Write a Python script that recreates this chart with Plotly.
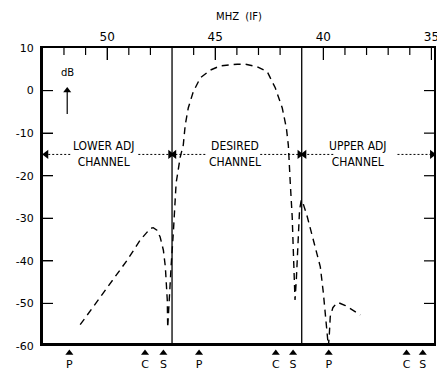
import plotly.graph_objects as go

# IF response curve (MHz, dB)
freq_mhz = [51.25, 50.65, 49.86, 49.07, 48.47, 48.01, 47.87, 47.70, 47.55, 47.40, 47.31, 47.22, 47.20,
            47.15, 47.10, 47.04, 46.94, 46.81, 46.62, 46.48, 46.39, 46.25, 46.02, 45.69, 45.23, 44.77,
            43.98, 43.61, 43.06, 42.59, 42.22, 41.90, 41.71, 41.62, 41.53, 41.44, 41.39, 41.34, 41.31,
            41.25, 41.18, 41.10, 41.02, 40.93, 40.74, 40.46, 40.14, 40.00, 39.91, 39.81, 39.77,
            39.73, 39.68, 39.56, 39.40, 39.31, 38.98, 38.66, 38.29]
response_db = [-55.0, -50.8, -45.2, -39.8, -35.1, -32.4, -32.2, -32.8, -34.4, -37.5, -41.4, -49.2, -55.7,
               -50.0, -45.0, -41.0, -33.4, -21.7, -15.6, -12.8, -8.1, -4.1, -0.3, 3.0, 4.8, 5.8,
               6.2, 6.2, 5.6, 4.4, 0.6, -4.1, -8.8, -12.8, -21.7, -29.7, -37.4, -47.5, -49.2,
               -44.5, -35.0, -28.0, -25.7, -26.6, -29.7, -35.1, -41.4, -47.5, -53.1, -58.5, -60.0,
               -58.0, -53.1, -51.0, -50.0, -49.8, -50.5, -51.5, -52.7]

# carrier markers under the axis
marker_freq = [51.75, 48.25, 47.4, 45.75, 42.2, 41.4, 39.75, 36.15, 35.4]
marker_text = ["P", "C", "S", "P", "C", "S", "P", "C", "S"]

x_ticks = [50, 45, 40, 35]
x_minor = [52, 51, 49, 48, 46, 44, 43, 42, 39, 38, 37, 36]
y_ticks = [10, 0, -10, -20, -30, -40, -50, -60]
y_ticktext = ["10", "0", "-10", "-20", "-30", "-40", "-50", "-60"]
channel_edges = [47, 41]

channel_labels = ["LOWER ADJ<br>CHANNEL", "DESIRED<br>CHANNEL", "UPPER ADJ<br>CHANNEL"]
channel_centers = [50.16, 44.07, 38.38]
arrow_tails = [51.71, 48.56, 45.46, 42.92, 39.54, 36.57]
arrow_heads = [52.82, 47.08, 46.90, 41.10, 40.88, 34.97]
arrow_db = -15
db_arrow = (51.85, -5.5, 0.0)  # x, tail, head

W, H = 437, 370
M = dict(l=43, r=3, t=48, b=0)
x_range = [52.97, 34.88]
y_range = [-60, 10]
strip = 24 / (H - M["t"] - M["b"])  # fraction of plot height used by the marker strip

# scale factors (pixels per data unit) used to size the tick marks
px_per_db = (H - M["t"] - M["b"]) * (1 - strip) / (y_range[1] - y_range[0])
px_per_mhz = (W - M["l"] - M["r"]) / (x_range[0] - x_range[1])
major_len, minor_len, ytick_len = 12, 7, 10

fig = go.Figure()

# response curve
fig.add_trace(go.Scatter(
    x=freq_mhz, y=response_db, mode="lines",
    line=dict(color="black", width=1.4, dash="7px,5px"),
    hoverinfo="skip", showlegend=False))

# channel boundaries
ex, ey = [], []
for e in channel_edges:
    ex += [e, e, None]
    ey += [y_range[0], y_range[1], None]
fig.add_trace(go.Scatter(x=ex, y=ey, mode="lines", line=dict(color="black", width=1.3),
                         hoverinfo="skip", showlegend=False))

# tick marks drawn inside the frame
tx, ty = [], []
for v in x_ticks:
    tx += [v, v, None]
    ty += [y_range[1], y_range[1] - major_len / px_per_db, None]
for v in x_minor:
    tx += [v, v, None]
    ty += [y_range[1], y_range[1] - minor_len / px_per_db, None]
for v in y_ticks[1:-1]:
    tx += [x_range[0], x_range[0] - ytick_len / px_per_mhz, None]
    ty += [v, v, None]
    tx += [x_range[1], x_range[1] + ytick_len / px_per_mhz, None]
    ty += [v, v, None]
fig.add_trace(go.Scatter(x=tx, y=ty, mode="lines", line=dict(color="black", width=1.2),
                         hoverinfo="skip", showlegend=False))

# channel arrows (dotted shafts + heads)
sx, sy = [], []
for t, h in zip(arrow_tails, arrow_heads):
    sx += [t, h, None]
    sy += [arrow_db, arrow_db, None]
fig.add_trace(go.Scatter(x=sx, y=sy, mode="lines", line=dict(color="black", width=1, dash="2px,2px"),
                         hoverinfo="skip", showlegend=False))
fig.add_trace(go.Scatter(
    x=arrow_heads, y=[arrow_db] * len(arrow_heads), mode="markers",
    marker=dict(symbol=["triangle-left" if h > t else "triangle-right"
                        for t, h in zip(arrow_tails, arrow_heads)], size=8, color="black"),
    hoverinfo="skip", showlegend=False))

# dB arrow
fig.add_trace(go.Scatter(x=[db_arrow[0], db_arrow[0]], y=[db_arrow[1], db_arrow[2]], mode="lines",
                         line=dict(color="black", width=1.2), hoverinfo="skip", showlegend=False))
fig.add_trace(go.Scatter(x=[db_arrow[0]], y=[db_arrow[2]], mode="markers",
                         marker=dict(symbol="triangle-up", size=7, color="black"),
                         hoverinfo="skip", showlegend=False))

# carrier markers in the strip below the axis
fig.add_trace(go.Scatter(
    x=marker_freq, y=[17] * len(marker_freq), mode="markers", xaxis="x2", yaxis="y2",
    marker=dict(symbol="triangle-up", size=7, color="black"),
    showlegend=False, hoverinfo="skip"))
fig.add_trace(go.Scatter(
    x=marker_freq, y=[4.5] * len(marker_freq), mode="text", xaxis="x2", yaxis="y2",
    text=marker_text, textposition="middle center",
    textfont=dict(family="DejaVu Sans", size=11, color="black"),
    showlegend=False, hoverinfo="skip"))

# invisible anchor for the right-hand frame axis
fig.add_trace(go.Scatter(x=[x_range[0]], y=[y_range[0]], yaxis="y3", mode="markers",
                         marker=dict(opacity=0), hoverinfo="skip", showlegend=False))

lab_font = dict(family="Liberation Sans Narrow, DejaVu Sans Condensed, Roboto", size=12, color="black")
annotations = [dict(x=c, y=arrow_db, text=t, showarrow=False, font=lab_font, xref="x", yref="y")
               for c, t in zip(channel_centers, channel_labels)]
annotations.append(dict(x=db_arrow[0], y=4.3, text="dB", showarrow=False, xref="x", yref="y",
                        font=dict(family="DejaVu Sans", size=10, color="black")))
annotations.append(dict(x=0.5, y=1, xref="paper", yref="paper", yshift=32, text="MHZ  (IF)",
                        showarrow=False, yanchor="middle",
                        font=dict(family="DejaVu Sans", size=10, color="black")))

fig.update_layout(
    width=W, height=H,
    margin=dict(**M, autoexpand=False),
    paper_bgcolor="white", plot_bgcolor="white",
    annotations=annotations,
    xaxis=dict(range=x_range, side="top", anchor="y", tickmode="array", tickvals=x_ticks,
               ticks="inside", ticklen=major_len, tickwidth=1.2, tickcolor="black",
               showline=True, linecolor="black", linewidth=1.5, automargin=False,
               ticklabeloverflow="allow", showgrid=False, zeroline=False,
               tickfont=dict(family="DejaVu Sans", size=12, color="black")),
    yaxis=dict(range=y_range, domain=[strip, 1], anchor="x", tickmode="array", tickvals=y_ticks,
               ticktext=y_ticktext, ticks="inside", ticklen=ytick_len, tickwidth=1.2, tickcolor="black",
               showline=True, linecolor="black", linewidth=3, mirror=False, automargin=False,
               showgrid=False, zeroline=False, ticklabelstandoff=4,
               tickfont=dict(family="DejaVu Sans", size=11, color="black")),
    yaxis3=dict(range=y_range, overlaying="y", side="right", anchor="x", tickmode="array",
                tickvals=y_ticks, ticks="", showticklabels=False, showline=True, linecolor="black",
                linewidth=1.5, automargin=False, showgrid=False, zeroline=False),
    xaxis2=dict(range=x_range, anchor="y2", side="top", showline=True, linecolor="black", linewidth=3,
                ticks="", showticklabels=False, showgrid=False, zeroline=False, automargin=False),
    yaxis2=dict(range=[0, 24], domain=[0, strip], anchor="x2", visible=False, automargin=False),
)

fig.write_html("out.html")
